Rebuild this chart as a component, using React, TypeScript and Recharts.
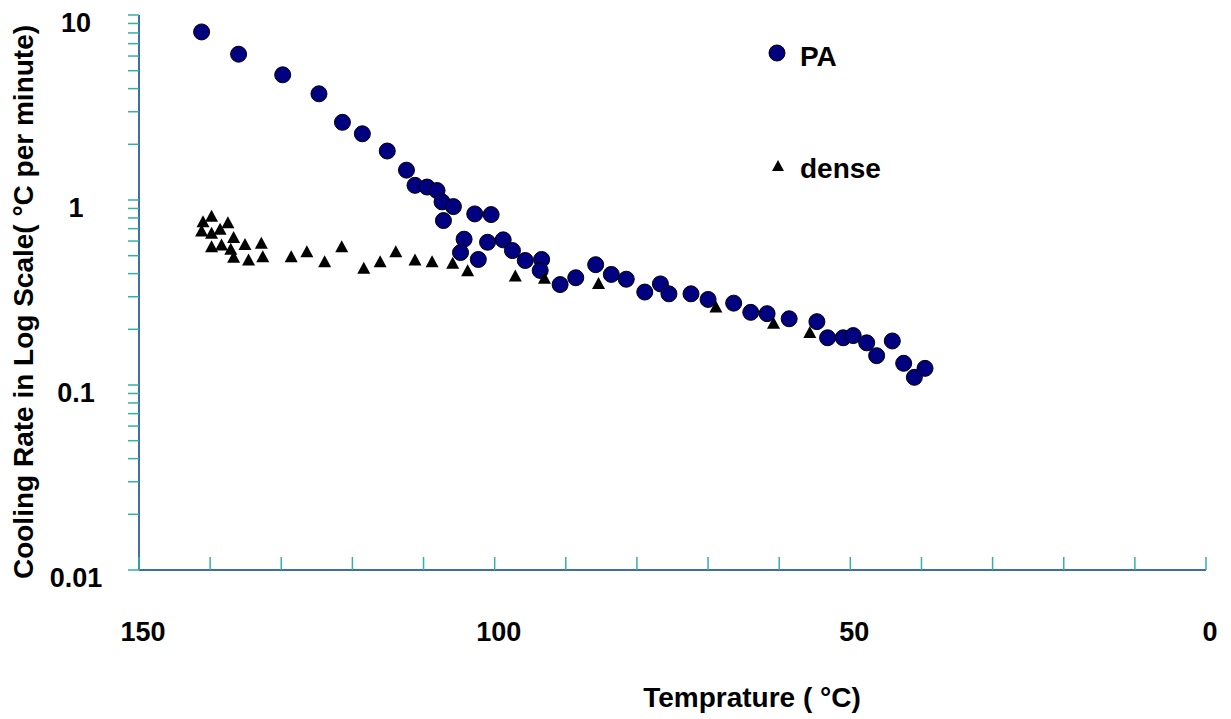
import { ScatterChart, Scatter, XAxis, YAxis, Legend } from 'recharts'

const paTemp = [
  141.2, 136.0, 129.8, 124.7, 121.4, 118.6, 115.1, 112.4, 111.2, 109.5, 108.1, 107.4, 107.2, 105.8,
  104.3, 104.8, 102.8, 102.3, 101.0, 100.5, 98.8, 97.5, 95.7, 93.4, 93.6, 90.8, 88.6, 85.8, 83.6,
  81.5, 78.9, 76.7, 75.5, 72.4, 70.0, 66.4, 64.0, 61.7, 58.6, 54.7, 53.2, 51.0, 49.6, 47.7, 46.3,
  44.1, 42.5, 41.0, 39.5,
]
const paRate = [
  8.1, 6.14, 4.75, 3.75, 2.63, 2.28, 1.84, 1.45, 1.2, 1.175, 1.125, 0.977, 0.774, 0.921,
  0.614, 0.52, 0.841, 0.477, 0.591, 0.834, 0.609, 0.533, 0.471, 0.477, 0.416, 0.349, 0.38, 0.447, 0.396,
  0.373, 0.318, 0.352, 0.311, 0.311, 0.29, 0.277, 0.247, 0.243, 0.228, 0.22, 0.18, 0.18, 0.185, 0.169, 0.144,
  0.173, 0.131, 0.11, 0.123,
]

const denseTemp = [
  141.2, 141.0, 139.8, 139.8, 139.8, 138.6, 138.4, 137.5, 137.1, 136.7, 136.7, 135.1, 134.6, 132.8,
  132.6, 128.6, 126.4, 123.9, 121.5, 118.4, 116.1, 113.9, 111.2, 108.8, 105.9, 103.8, 97.1, 93.0,
  85.4, 68.9, 60.8, 55.7,
]
const denseRate = [
  0.675, 0.758, 0.813, 0.656, 0.556, 0.69, 0.567, 0.748, 0.538, 0.624, 0.487, 0.572, 0.471, 0.58,
  0.491, 0.491, 0.522, 0.461, 0.556, 0.425, 0.461, 0.522, 0.471, 0.461, 0.452, 0.412, 0.386, 0.375,
  0.352, 0.262, 0.214, 0.191,
]

const xTicks = [0, 10, 20, 30, 40, 50, 60, 70, 80, 90, 100, 110, 120, 130, 140, 150]
const xLabels = [0, 50, 100, 150]
const yTicks = [
  0.01, 0.02, 0.03, 0.04, 0.05, 0.06, 0.07, 0.08, 0.09,
  0.1, 0.2, 0.3, 0.4, 0.5, 0.6, 0.7, 0.8, 0.9,
  1, 2, 3, 4, 5, 6, 7, 8, 9, 10,
]
const yLabels = [0.01, 0.1, 1, 10]

const paData = paTemp.map((t, i) => ({ t, rate: paRate[i] }))
const denseData = denseTemp.map((t, i) => ({ t, rate: denseRate[i] }))

const FONT = '"Liberation Sans", Arial, sans-serif'
const AXIS = '#3f6f9c'
const TICK = '#35b0a6'
const NAVY = '#000080'

function XTick({ x, y, payload }: any) {
  const v = payload.value
  return (
    <g>
      <line x1={x} x2={x} y1={y} y2={y - 13} stroke={TICK} strokeWidth={1.5} />
      {xLabels.includes(v) && (
        <text x={x + 4} y={y + 64} textAnchor="middle" dominantBaseline="middle"
          fontFamily={FONT} fontWeight={700} fontSize={27} fill="#000">{v}</text>
      )}
    </g>
  )
}

function YTick({ x, y, payload }: any) {
  const v = payload.value
  return (
    <g>
      <line x1={x - 11} x2={x} y1={y} y2={y} stroke={TICK} strokeWidth={1.5} />
      {yLabels.includes(v) && (
        <text x={76} y={y + 10} textAnchor="middle" dominantBaseline="middle"
          fontFamily={FONT} fontWeight={700} fontSize={27} fill="#000">{v}</text>
      )}
    </g>
  )
}

function Dot({ cx, cy }: any) {
  return <circle cx={cx} cy={cy} r={8} fill={NAVY} stroke="#000" strokeWidth={1} />
}

function Tri({ cx, cy }: any) {
  return <polygon points={`${cx},${cy - 7} ${cx + 6.5},${cy + 5} ${cx - 6.5},${cy + 5}`} fill="#000" />
}

function LegendBox() {
  return (
    <svg width={150} height={160}>
      <circle cx={17} cy={23} r={8} fill={NAVY} stroke="#000" strokeWidth={1} />
      <text x={40} y={29} dominantBaseline="middle" fontFamily={FONT} fontWeight={700} fontSize={28}>PA</text>
      <polygon points="18,130 24,141 12,141" fill="#000" />
      <text x={40} y={141} dominantBaseline="middle" fontFamily={FONT} fontWeight={700} fontSize={28}>dense</text>
    </svg>
  )
}

export default function App() {
  return (
    <div style={{ position: 'absolute', left: 0, top: 0, width: 1231, height: 719, background: '#fff' }}>
      <ScatterChart width={1231} height={719} margin={{ top: 15, right: 25, left: 0, bottom: 0 }}>
        <XAxis
          type="number"
          dataKey="t"
          domain={[0, 150]}
          reversed
          ticks={xTicks}
          interval={0}
          tick={<XTick />}
          tickLine={false}
          tickSize={0}
          tickMargin={0}
          axisLine={{ stroke: AXIS, strokeWidth: 2 }}
          height={149}
          label={{
            content: () => (
              <text x={752} y={700} textAnchor="middle" dominantBaseline="middle"
                fontFamily={FONT} fontWeight={700} fontSize={28} fill="#000">Temprature ( °C)</text>
            ),
          }}
        />
        <YAxis
          type="number"
          dataKey="rate"
          scale="log"
          domain={[0.01, 10]}
          allowDataOverflow
          ticks={yTicks}
          interval={0}
          tick={<YTick />}
          tickLine={false}
          tickSize={0}
          tickMargin={0}
          axisLine={{ stroke: AXIS, strokeWidth: 2 }}
          width={139}
          label={{
            content: () => (
              <text transform="translate(26,302) rotate(-90)" textAnchor="middle" dominantBaseline="middle"
                fontFamily={FONT} fontWeight={700} fontSize={28} fill="#000">Cooling Rate in Log Scale( °C per minute)</text>
            ),
          }}
        />
        <Legend
          content={<LegendBox />}
          layout="horizontal"
          verticalAlign="middle"
          align="center"
          wrapperStyle={{ left: 760, top: 30, width: 150, height: 160 }}
        />
        <Scatter name="PA" data={paData} shape={<Dot />} isAnimationActive={false} />
        <Scatter name="dense" data={denseData} shape={<Tri />} isAnimationActive={false} />
      </ScatterChart>
    </div>
  )
}
